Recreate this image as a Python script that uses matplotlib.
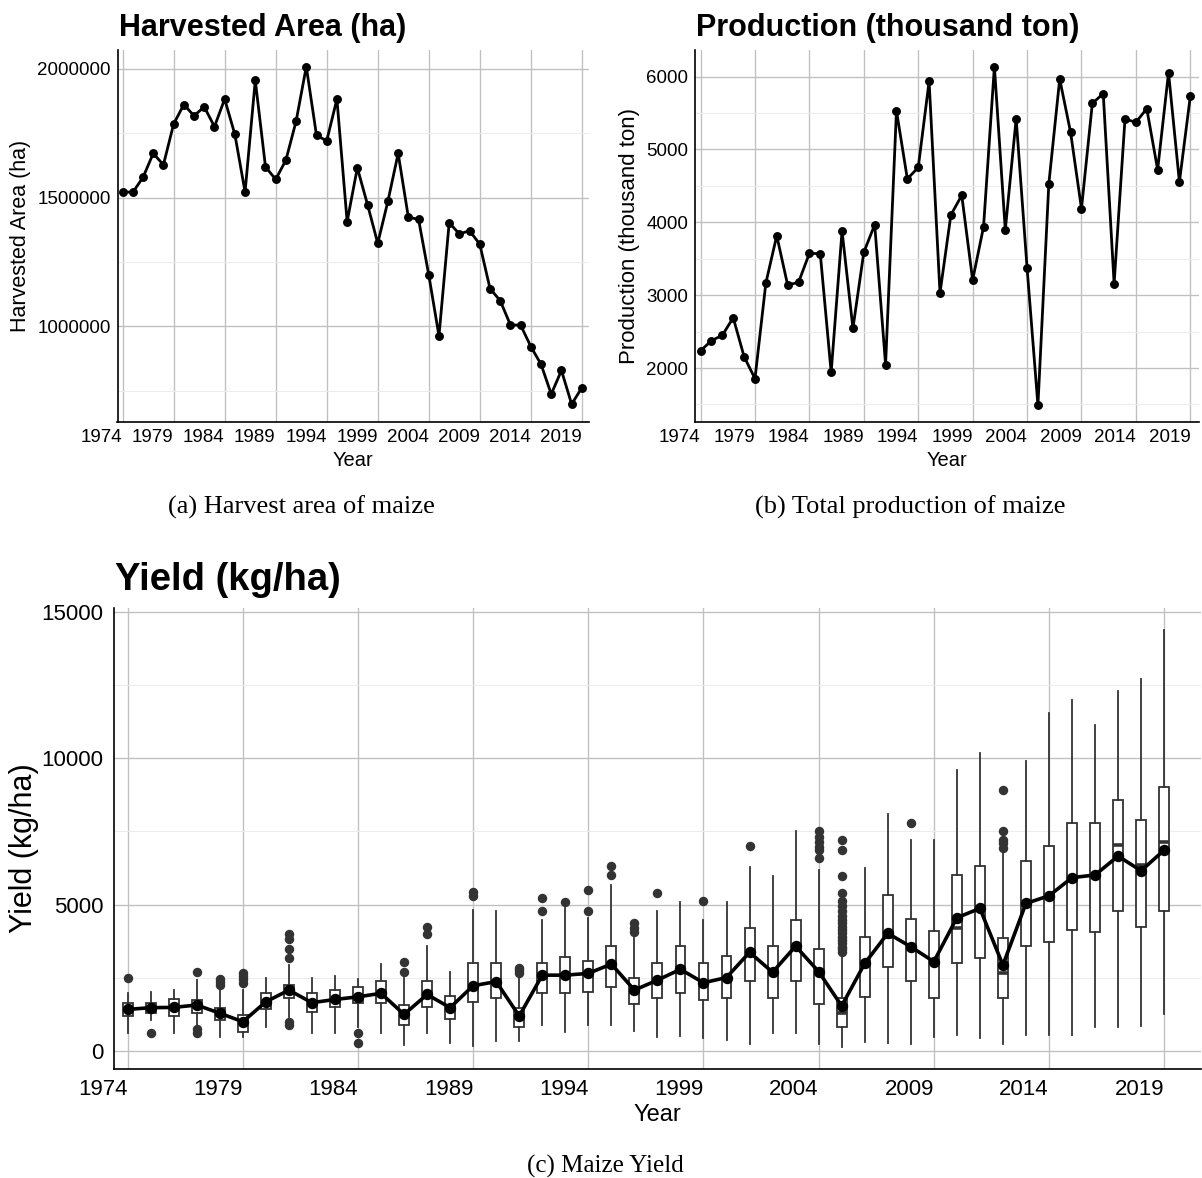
import matplotlib
matplotlib.use("Agg")
import matplotlib.pyplot as plt
from matplotlib.ticker import FixedLocator

# ---------------------------------------------------------------- data
years = list(range(1974, 2020))
tick_years = list(range(1974, 2020, 5))

harvested_area = [
    1523000, 1521000, 1579000, 1672000, 1628000, 1786000, 1862000, 1818000,
    1853000, 1776000, 1883000, 1746000, 1522000, 1956000, 1620000, 1571000,
    1646000, 1797000, 2009000, 1742000, 1721000, 1883000, 1407000, 1616000,
    1473000, 1323000, 1487000, 1672000, 1424000, 1416000, 1200000, 963000,
    1403000, 1359000, 1372000, 1319000, 1147000, 1100000, 1006000, 1005000,
    922000, 853000, 737000, 829000, 698000, 762000,
]

production = [
    2238, 2375, 2449, 2691, 2156, 1854, 3167, 3817, 3140, 3176, 3574, 3570,
    1940, 3881, 2545, 3588, 3968, 2046, 5533, 4597, 4753, 5936, 3030, 4101,
    4371, 3208, 3936, 6138, 3895, 5424, 3378, 1487, 4529, 5968, 5236, 4188,
    5634, 5767, 3158, 5419, 5373, 5561, 4723, 6055, 4554, 5730,
]

# yield distribution per year (kg/ha)
yield_whislo = [
    600, 1060, 600, 890, 490, 490, 810, 1170, 600, 600, 830, 600,
    200, 600, 260, 170, 350, 350, 890, 640, 890, 890, 680, 490,
    510, 430, 375, 230, 600, 600, 240, 130, 320, 280, 240, 490,
    550, 455, 230, 550, 550, 550, 810, 830, 850, 1260,
]
yield_q1 = [
    1195, 1290, 1195, 1290, 1060, 660, 1420, 1800, 1340, 1510, 1650, 1650,
    890, 1490, 1080, 1680, 1800, 810, 1970, 1970, 2000, 2170, 1600, 1800,
    1990, 1740, 1800, 2400, 1800, 2400, 1590, 830, 1850, 2880, 2390, 1800,
    2990, 3185, 1800, 3595, 3710, 4130, 4050, 4790, 4240, 4790,
]
yield_median = [
    1400, 1450, 1450, 1550, 1250, 950, 1650, 2050, 1600, 1750, 1850, 1950,
    1250, 1900, 1450, 2200, 2350, 1150, 2600, 2550, 2650, 2950, 2050, 2400,
    2800, 2300, 2500, 3300, 2650, 3600, 2650, 1300, 2950, 3900, 3500, 3000,
    4210, 4800, 2650, 5000, 5250, 5900, 6000, 7030, 6350, 7145,
]
yield_q3 = [
    1650, 1650, 1775, 1740, 1455, 1230, 1990, 2250, 1990, 2080, 2170, 2400,
    1570, 2400, 1880, 2990, 2990, 1460, 2990, 3200, 3080, 3580, 2500, 2990,
    3600, 2990, 3240, 4200, 3600, 4490, 3490, 1800, 3900, 5310, 4500, 4100,
    6000, 6325, 3845, 6500, 7010, 7790, 7790, 8570, 7880, 9000,
]
yield_whishi = [
    1990, 2025, 2080, 2420, 2140, 2080, 2480, 2950, 2480, 2560, 2450, 2970,
    2500, 3580, 2700, 4810, 4790, 2480, 4490, 4880, 4530, 5670, 3850, 4790,
    5085, 4490, 5085, 6290, 5980, 7500, 6180, 3250, 6235, 8080, 7200, 7200,
    9590, 10190, 6800, 9900, 11550, 12000, 11130, 12290, 12700, 14390,
]
yield_mean = [
    1420, 1480, 1490, 1570, 1290, 1000, 1680, 2080, 1650, 1760, 1850, 1970,
    1250, 1930, 1480, 2230, 2370, 1195, 2590, 2590, 2650, 2970, 2080, 2420,
    2790, 2330, 2510, 3370, 2690, 3580, 2710, 1540, 2990, 4020, 3560, 3050,
    4550, 4870, 2935, 5040, 5300, 5920, 6010, 6655, 6155, 6860,
]
yield_outliers = [
    [2500], [600], [], [2700, 740, 600], [2250, 2350, 2450],
    [2310, 2450, 2560, 2650], [], [880, 1000, 3160, 3500, 3840, 4010], [], [],
    [600, 290], [], [2700, 3050], [4010, 4240], [], [5290, 5440], [],
    [2650, 2750, 2820], [4790, 5230], [5100], [4790, 5500], [6000, 6310],
    [4070, 4200, 4360], [5400], [], [5130], [], [7000], [], [],
    [6600, 6860, 6970, 7140, 7320, 7500],
    [3390, 3480, 3560, 3680, 3790, 3900, 4020, 4130, 4240, 4360, 4470,
     4620, 4780, 4950, 5120, 5400, 5990, 6880, 7200],
    [], [], [7800], [], [], [], [6920, 7090, 7220, 7520, 8910],
    [], [], [], [], [], [], [],
]

# ---------------------------------------------------------------- style
W, H = 1202, 1178
SANS = ["Liberation Sans", "DejaVu Sans"]
SERIF = ["Liberation Serif", "DejaVu Serif"]
plt.rcParams["font.family"] = SANS

MAJOR_GRID = "#c0c0c0"
MINOR_GRID = "#ececec"
BOX_EDGE = "#333333"


def px_rect(left, top, right, bottom):
    return [left / W, 1 - bottom / H, (right - left) / W, (bottom - top) / H]


def style_axes(ax, yticks, ylabels, yminor, tick_size, xpad, ypad):
    for side in ("top", "right"):
        ax.spines[side].set_visible(False)
    for side in ("left", "bottom"):
        ax.spines[side].set_linewidth(1.2)
        ax.spines[side].set_color("black")
    ax.set_xticks(tick_years)
    ax.set_xticklabels([str(y) for y in tick_years], ha="right")
    ax.set_yticks(yticks)
    ax.set_yticklabels(ylabels)
    ax.yaxis.set_minor_locator(FixedLocator(yminor))
    ax.tick_params(axis="both", which="both", length=0, labelsize=tick_size,
                   colors="black")
    ax.tick_params(axis="x", pad=xpad)
    ax.tick_params(axis="y", pad=ypad)
    ax.grid(which="major", color=MAJOR_GRID, linewidth=0.95)
    ax.yaxis.grid(which="minor", color=MINOR_GRID, linewidth=0.75)
    ax.set_axisbelow(True)


fig = plt.figure(figsize=(W / 100, H / 100), dpi=100)

# ---------------------------------------------------------------- (a) area
ax1 = fig.add_axes(px_rect(117.5, 50, 589, 421.7))
ax1.plot(years, harvested_area, color="black", linewidth=2.0, marker="o",
         markersize=5.4, zorder=3)
ax1.set_xlim(1973.5, 2019.7)
ax1.set_ylim(630000, 2073700)
style_axes(ax1, [1000000, 1500000, 2000000], ["1000000", "1500000", "2000000"],
           [750000, 1250000, 1750000], 13.5, 5.5, 4.7)
fig.text(118.6 / W, 1 - 36 / H, "Harvested Area (ha)", fontsize=22,
         fontweight="bold", ha="left", va="baseline")
fig.text(21 / W, 1 - 236 / H, "Harvested Area (ha)", fontsize=15.5,
         rotation=90, ha="center", va="center")
fig.text(353 / W, 1 - 460 / H, "Year", fontsize=14.5, ha="center", va="center")
fig.text(301 / W, 1 - 507 / H, "(a) Harvest area of maize", family=SERIF,
         fontsize=19, ha="center", va="center")

# ---------------------------------------------------------------- (b) production
ax2 = fig.add_axes(px_rect(694.8, 50, 1199, 421.7))
ax2.plot(years, production, color="black", linewidth=2.0, marker="o",
         markersize=5.4, zorder=3)
ax2.set_xlim(1973.47, 2019.8)
ax2.set_ylim(1263, 6366)
style_axes(ax2, [2000, 3000, 4000, 5000, 6000],
           ["2000", "3000", "4000", "5000", "6000"],
           [1500, 2500, 3500, 4500, 5500], 13.5, 5.5, 4.7)
fig.text(696 / W, 1 - 36 / H, "Production (thousand ton)", fontsize=22,
         fontweight="bold", ha="left", va="baseline")
fig.text(629 / W, 1 - 236 / H, "Production (thousand ton)", fontsize=16,
         rotation=90, ha="center", va="center")
fig.text(947 / W, 1 - 460 / H, "Year", fontsize=14.5, ha="center", va="center")
fig.text(910 / W, 1 - 507 / H, "(b) Total production of maize", family=SERIF,
         fontsize=19, ha="center", va="center")

# ---------------------------------------------------------------- (c) yield
ax3 = fig.add_axes(px_rect(114.3, 608.3, 1201, 1069))
stats = []
for i, yr in enumerate(years):
    stats.append(dict(label=str(yr), whislo=yield_whislo[i], q1=yield_q1[i],
                      med=yield_median[i], q3=yield_q3[i],
                      whishi=yield_whishi[i], fliers=yield_outliers[i]))
ax3.bxp(stats, positions=years, widths=0.43, patch_artist=True,
        showcaps=False, showfliers=True, manage_ticks=False,
        boxprops=dict(facecolor="white", edgecolor=BOX_EDGE, linewidth=1.3),
        whiskerprops=dict(color=BOX_EDGE, linewidth=1.3),
        medianprops=dict(color=BOX_EDGE, linewidth=2.6),
        flierprops=dict(marker="o", markerfacecolor=BOX_EDGE,
                        markeredgecolor=BOX_EDGE, markersize=5.8,
                        linestyle="none"))
ax3.plot(years, yield_mean, color="black", linewidth=2.6, marker="o",
         markersize=7.2, zorder=5)
ax3.set_xlim(1973.42, 2020.6)
ax3.set_ylim(-614, 15116)
style_axes(ax3, [0, 5000, 10000, 15000], ["0", "5000", "10000", "15000"],
           [2500, 7500, 12500], 16, 7.2, 8)
fig.text(115 / W, 1 - 590 / H, "Yield (kg/ha)", fontsize=27.5,
         fontweight="bold", ha="left", va="baseline")
fig.text(24 / W, 1 - 848 / H, "Yield (kg/ha)", fontsize=22,
         rotation=90, ha="center", va="center")
fig.text(657.5 / W, 1 - 1115 / H, "Year", fontsize=17, ha="center",
         va="center")
fig.text(605 / W, 1 - 1166 / H, "(c) Maize Yield", family=SERIF,
         fontsize=18, ha="center", va="center")

fig.savefig("out.png", dpi=100, facecolor="white")
